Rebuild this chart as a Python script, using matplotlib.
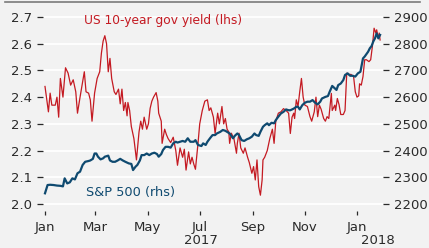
import matplotlib
matplotlib.use("Agg")
import matplotlib.pyplot as plt
import matplotlib.dates as mdates
import pandas as pd

# ---- data (days since 2017-01-01, values) ----
yield_days = [0, 4, 6, 8, 12, 14, 16, 18, 21, 24, 27, 30, 33, 36, 38, 41, 46, 48, 51, 53,
              55, 58, 61, 64, 66, 68, 70, 72, 74, 76, 78, 81, 83, 86, 88, 90, 92, 94, 96, 97,
              99, 101, 104, 107, 110, 112, 114, 116, 119, 121, 123, 125, 127, 130, 132, 133, 136, 137, 140, 142,
              144, 147, 150, 153, 155, 158, 161, 163, 165, 168, 170, 172, 174, 176, 179, 181, 184, 187, 190, 192,
              194, 197, 199, 202, 204, 207, 209, 211, 213, 215, 216, 218, 221, 224, 225, 227, 229, 232, 234, 237,
              239, 242, 244, 246, 248, 250, 252, 254, 255, 257, 260, 263, 266, 268, 270, 273, 276, 279, 282, 285,
              287, 289, 291, 292, 294, 296, 298, 300, 302, 304, 307, 310, 312, 315, 317, 319, 321, 323, 326, 328,
              330, 332, 335, 336, 339, 340, 342, 344, 346, 349, 351, 353, 355, 358, 361, 363, 365, 367, 368, 370,
              372, 374, 376, 379, 381, 383, 385, 387, 388, 390, 391, 392]
yield_vals = [2.44, 2.345, 2.415, 2.37, 2.37, 2.40, 2.325, 2.47, 2.40, 2.51, 2.49, 2.445, 2.465, 2.42, 2.34, 2.40, 2.495, 2.42, 2.415, 2.39,
              2.31, 2.415, 2.47, 2.495, 2.565, 2.61, 2.63, 2.60, 2.495, 2.545, 2.47, 2.42, 2.41, 2.43, 2.375, 2.43, 2.35, 2.38, 2.33, 2.38,
              2.35, 2.29, 2.245, 2.165, 2.27, 2.31, 2.28, 2.325, 2.28, 2.30, 2.358, 2.385, 2.40, 2.417, 2.385, 2.34, 2.31, 2.227, 2.28, 2.26,
              2.245, 2.23, 2.25, 2.20, 2.145, 2.21, 2.175, 2.205, 2.127, 2.195, 2.15, 2.175, 2.15, 2.13, 2.227, 2.30, 2.35, 2.385, 2.39, 2.35,
              2.36, 2.325, 2.264, 2.34, 2.30, 2.365, 2.30, 2.32, 2.28, 2.27, 2.227, 2.265, 2.245, 2.19, 2.227, 2.265, 2.21, 2.19, 2.21, 2.175,
              2.155, 2.115, 2.14, 2.09, 2.165, 2.065, 2.033, 2.09, 2.165, 2.175, 2.20, 2.245, 2.28, 2.227, 2.31, 2.34, 2.345, 2.357, 2.35, 2.34,
              2.264, 2.325, 2.34, 2.32, 2.39, 2.365, 2.42, 2.47, 2.40, 2.37, 2.365, 2.327, 2.31, 2.345, 2.40, 2.327, 2.37, 2.355, 2.32, 2.31,
              2.327, 2.32, 2.414, 2.35, 2.37, 2.35, 2.395, 2.372, 2.335, 2.335, 2.35, 2.49, 2.485, 2.485, 2.477, 2.42, 2.40, 2.405, 2.45, 2.445,
              2.477, 2.54, 2.54, 2.533, 2.54, 2.59, 2.658, 2.64, 2.652, 2.62, 2.64, 2.614]

spx_days = [0, 3, 6, 10, 14, 18, 21, 23, 26, 29, 32, 35, 38, 41, 44, 47, 51, 53, 56, 58,
            60, 62, 65, 68, 70, 74, 76, 79, 82, 85, 88, 91, 94, 98, 101, 103, 106, 108, 111, 113,
            116, 119, 122, 125, 128, 131, 133, 136, 138, 141, 144, 147, 150, 153, 155, 158, 161, 164, 167, 170,
            174, 176, 179, 183, 185, 188, 190, 193, 196, 199, 201, 205, 208, 211, 213, 216, 220, 222, 225, 227,
            230, 233, 236, 239, 242, 245, 247, 250, 252, 255, 257, 260, 262, 265, 268, 270, 273, 276, 279, 282,
            285, 287, 291, 294, 296, 298, 301, 304, 307, 310, 313, 316, 319, 322, 324, 328, 331, 333, 336, 339,
            341, 343, 346, 349, 351, 354, 357, 360, 363, 366, 369, 371, 372, 374, 378, 380, 382, 384, 386, 388,
            390, 392]
spx_vals = [2240, 2271, 2272, 2271, 2269, 2268, 2266, 2296, 2277, 2281, 2296, 2292, 2315, 2321, 2346, 2358, 2361, 2363, 2369, 2389,
            2389, 2377, 2367, 2371, 2377, 2381, 2363, 2358, 2358, 2363, 2369, 2363, 2358, 2352, 2350, 2327, 2340, 2346, 2363, 2383,
            2383, 2389, 2383, 2389, 2392, 2387, 2377, 2387, 2402, 2414, 2414, 2411, 2427, 2433, 2430, 2433, 2436, 2433, 2446, 2433,
            2433, 2439, 2421, 2417, 2427, 2421, 2433, 2446, 2458, 2458, 2464, 2470, 2477, 2474, 2470, 2464, 2446, 2455, 2464, 2458,
            2439, 2436, 2442, 2446, 2452, 2464, 2458, 2455, 2470, 2489, 2495, 2502, 2495, 2504, 2502, 2514, 2527, 2539, 2545, 2554,
            2551, 2551, 2557, 2564, 2564, 2554, 2570, 2579, 2583, 2583, 2589, 2579, 2573, 2583, 2595, 2601, 2604, 2620, 2642, 2633,
            2627, 2645, 2651, 2664, 2683, 2689, 2680, 2680, 2677, 2689, 2695, 2727, 2745, 2752, 2770, 2783, 2791, 2808, 2820, 2839,
            2820, 2833]

start_date = "2017-01-01"
left_ticks = [2.0, 2.1, 2.2, 2.3, 2.4, 2.5, 2.6, 2.7]
right_ticks = [2200, 2300, 2400, 2500, 2600, 2700, 2800, 2900]
x_tick_dates = ["2017-01-01", "2017-03-01", "2017-05-01", "2017-07-01", "2017-09-01", "2017-11-01", "2018-01-01"]
x_tick_labels = ["Jan", "Mar", "May", "Jul", "Sep", "Nov", "Jan"]
yield_label = "US 10-year gov yield (lhs)"
spx_label = "S&P 500 (rhs)"

RED = "#c41a22"
BLUE = "#0f4a70"
BG = "#f2f2f2"
TXT = "#2a2a2a"

base = pd.Timestamp(start_date)
ydates = base + pd.to_timedelta(yield_days, unit="D")
sdates = base + pd.to_timedelta(spx_days, unit="D")

W, H = 429, 248
fig = plt.figure(figsize=(W / 100, H / 100), dpi=100, facecolor=BG)
ax_l, ax_r, ax_t, ax_b = 43, 383, 8, 211
ax = fig.add_axes([ax_l / W, 1 - ax_b / H, (ax_r - ax_l) / W, (ax_b - ax_t) / H])
ax.set_facecolor(BG)
ax2 = ax.twinx()

# y ranges: 26.7 px per 0.1
ppu = 267.0
ax.set_ylim(2.0 - (ax_b - 204) / ppu, 2.7 + (17 - ax_t) / ppu)
ax2.set_ylim(2200 - (ax_b - 204) / ppu * 1000, 2900 + (17 - ax_t) / ppu * 1000)

x0 = pd.Timestamp("2017-01-01") - pd.Timedelta(days=(45 - ax_l) * 365 / 312)
x1 = pd.Timestamp("2017-01-01") + pd.Timedelta(days=(ax_r - 45) * 365 / 312)
ax.set_xlim(x0, x1)

for v in left_ticks:
    ax.axhline(v, color="white", lw=1.3, zorder=0)

ax.plot(ydates, yield_vals, color=RED, lw=0.9, zorder=3)
ax2.plot(sdates, spx_vals, color=BLUE, lw=1.6, zorder=3)

ax.set_yticks(left_ticks)
ax.set_yticklabels([f"{v:.1f}" for v in left_ticks])
ax2.set_yticks(right_ticks)
ax2.set_yticklabels([str(v) for v in right_ticks])
ax.set_xticks(pd.to_datetime(x_tick_dates))
ax.set_xticklabels(x_tick_labels)

for a in (ax, ax2):
    for s in a.spines.values():
        s.set_visible(False)
ax2.patch.set_visible(False)

fs = 9.5
ax.tick_params(axis="y", length=4, width=0.9, color=TXT, labelcolor=TXT, labelsize=fs, pad=4)
ax2.tick_params(axis="y", length=4, width=0.9, color=TXT, labelcolor=TXT, labelsize=fs, pad=4)
ax.tick_params(axis="x", length=3, width=0.9, color=TXT, labelcolor=TXT, labelsize=fs, pad=4)
for lab in ax.get_yticklabels() + ax2.get_yticklabels() + ax.get_xticklabels():
    lab.set_family("DejaVu Sans")

# year labels
fig.text(201 / W, 1 - 241 / H, "2017", ha="center", va="center", fontsize=fs, color=TXT)
fig.text(378 / W, 1 - 241 / H, "2018", ha="center", va="center", fontsize=fs, color=TXT)

# series labels
fig.text(84 / W, 1 - 20.5 / H, yield_label, ha="left", va="center", fontsize=8.8, color=RED)
fig.text(86 / W, 1 - 192.5 / H, spx_label, ha="left", va="center", fontsize=9.3, color=BLUE)

# top rule
fig.add_artist(plt.Line2D([5 / W, 420 / W], [1 - 2 / H, 1 - 2 / H], color="#7a7a7a", lw=1.2,
                          transform=fig.transFigure))

fig.savefig("out.png", dpi=100, facecolor=BG)
